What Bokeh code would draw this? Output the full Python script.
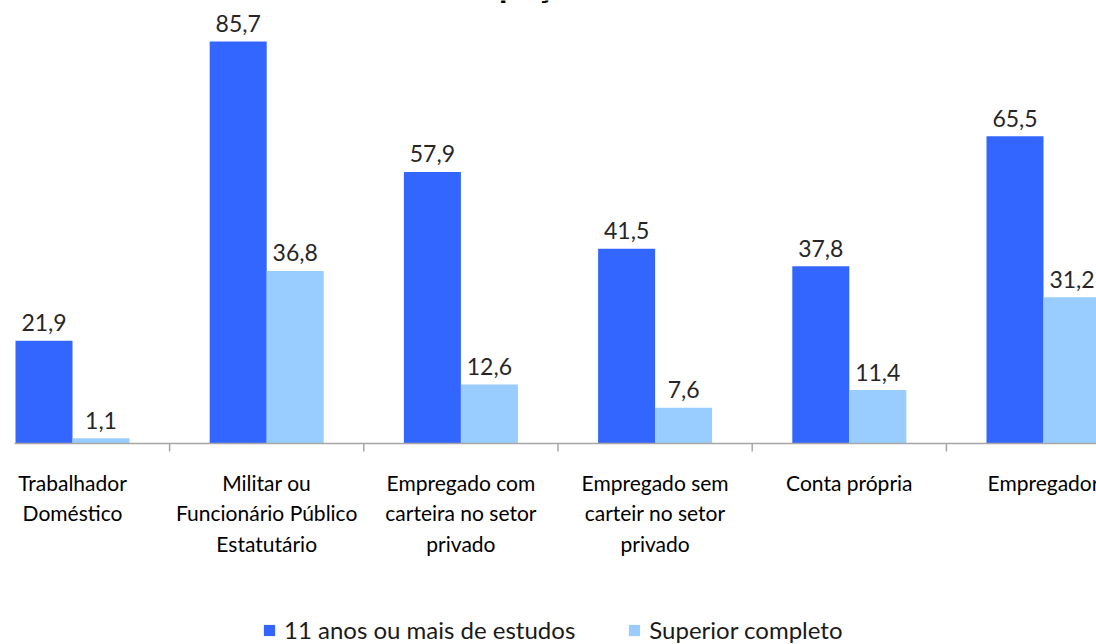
from bokeh.plotting import figure
from bokeh.models import Range1d, ColumnDataSource, Legend, LegendItem
from bokeh.core.properties import value
from bokeh.embed import file_html
from bokeh.resources import INLINE

# --- data -------------------------------------------------------------
categories = [
    "Trabalhador\nDoméstico",
    "Militar ou\nFuncionário Público\nEstatutário",
    "Empregado com\ncarteira no setor\nprivado",
    "Empregado sem\ncarteir no setor\nprivado",
    "Conta própria",
    "Empregador",
]
anos_11_mais = [21.9, 85.7, 57.9, 41.5, 37.8, 65.5]
superior_completo = [1.1, 36.8, 12.6, 7.6, 11.4, 31.2]
series_names = ["11 anos ou mais de estudos", "Superior completo"]
title_text = "Ocupação"

# --- layout constants ---------------------------------------------------
W, H = 1096, 644
PX_PER_UNIT = 4.69      # vertical pixels per percentage point
BASE_PX = 443           # pixel row of the zero line
CAT_PX = 194.2          # pixels per category slot
FIRST_PX = 72           # pixel column of the first category centre
BAR_W = 0.2935          # bar width in category units

y_top = BASE_PX / PX_PER_UNIT
y_bot = -(H - BASE_PX) / PX_PER_UNIT
x_left = -FIRST_PX / CAT_PX
x_right = (W - FIRST_PX) / CAT_PX

BLUE = "#3366FF"
LIGHT = "#99CCFF"
AXIS = "#A6A6A6"
FONT = value("Lato")

n = len(categories)
idx = list(range(n))


def fmt(v):
    return f"{v:.1f}".replace(".", ",")


src = ColumnDataSource(dict(
    xa=[i - BAR_W / 2 for i in idx],
    xs=[i + BAR_W / 2 for i in idx],
    a=anos_11_mais,
    s=superior_completo,
    la=[fmt(v) for v in anos_11_mais],
    ls=[fmt(v) for v in superior_completo],
))

p = figure(
    width=W, height=H,
    x_range=Range1d(x_left, x_right),
    y_range=Range1d(y_bot, y_top),
    output_backend="svg",
    toolbar_location=None,
    x_axis_type=None, y_axis_type=None,
    min_border=0,
    outline_line_color=None,
    background_fill_color="white",
)
p.grid.visible = False

r_a = p.vbar(x="xa", top="a", width=BAR_W, source=src,
             fill_color=BLUE, line_color=None)
r_s = p.vbar(x="xs", top="s", width=BAR_W, source=src,
             fill_color=LIGHT, line_color=None)

# value labels above each bar
for xcol, ycol, lab in (("xa", "a", "la"), ("xs", "s", "ls")):
    p.text(x=xcol, y=ycol, text=lab, source=src,
           text_align="center", text_baseline="alphabetic", y_offset=-18,
           text_font=FONT, text_font_size="23px", text_color="#262626")

# category axis: baseline, separator ticks and wrapped labels
axis_start = x_left + 14 / CAT_PX
p.segment(x0=[axis_start], y0=[0], x1=[x_right], y1=[0],
          line_color=AXIS, line_width=1.5)
tick_x = [i + 0.5 for i in idx[:-1]]
p.segment(x0=tick_x, y0=[0] * len(tick_x), x1=tick_x,
          y1=[-8 / PX_PER_UNIT] * len(tick_x),
          line_color=AXIS, line_width=1.5)
p.text(x=idx, y=[0] * n, text=categories,
       text_align="center", text_baseline="top", y_offset=26,
       text_line_height=1.23,
       text_font=FONT, text_font_size="21px", text_color="#000000")

# chart title sitting above the visible area
p.text(x=[(512 - FIRST_PX) / CAT_PX], y=[y_top], text=[title_text],
       text_align="center", text_baseline="alphabetic", y_offset=-17,
       text_font=FONT, text_font_style="bold", text_font_size="34px",
       text_color="#000000")

legend = Legend(
    items=[LegendItem(label=series_names[0], renderers=[r_a]),
           LegendItem(label=series_names[1], renderers=[r_s])],
    orientation="horizontal",
    location=(262, 0),
    padding=0, margin=0, spacing=52,
    glyph_width=14, glyph_height=14, label_standoff=8,
    border_line_color=None, background_fill_alpha=0,
    label_text_font="Lato", label_text_font_size="24px",
    label_text_color="#1a1a1a",
)
p.add_layout(legend)

open("out.html", "w").write(file_html(p, INLINE))
